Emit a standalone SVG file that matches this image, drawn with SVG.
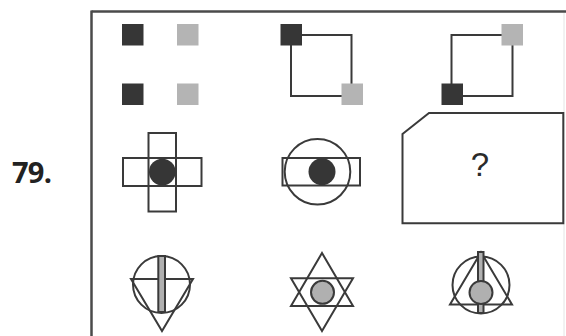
<svg xmlns="http://www.w3.org/2000/svg" width="566" height="336" viewBox="0 0 566 336">
<style>
.ln{fill:none;stroke:#3a3a3a;stroke-width:2}
.dk{fill:#363636}
.lt{fill:#b4b4b4}
.gc{fill:#b0b0b0;stroke:#3a3a3a;stroke-width:2}
</style>
<rect width="566" height="336" fill="#fff"/>
<g id="frame">
<line x1="91.5" y1="11.5" x2="566" y2="11.5" stroke="#4a4a4a" stroke-width="2.5"/>
<line x1="91.5" y1="10.5" x2="91.5" y2="336" stroke="#4a4a4a" stroke-width="2.5"/>
<line x1="564" y1="13" x2="564" y2="336" stroke="#e4e4e4" stroke-width="1"/>
</g>
<text x="12" y="183" font-family="'Open Sans', 'DejaVu Sans', sans-serif" font-weight="bold" font-size="29" fill="#222" textLength="40">79.</text>
<g id="cell-1-1">
<rect class="dk" x="122" y="24" width="21.5" height="21.5"/>
<rect class="lt" x="177" y="24" width="21.5" height="21.5"/>
<rect class="dk" x="122" y="83.5" width="21.5" height="21.5"/>
<rect class="lt" x="177" y="83.5" width="21.5" height="21.5"/>
</g>
<g id="cell-1-2">
<g id="connectors-1-2">
<polyline class="ln" points="302,35 351.5,35 351.5,84"/>
<polyline class="ln" points="291,45 291,96 342,96"/>
</g>
<rect class="dk" x="280.5" y="24" width="21.5" height="21.5"/>
<rect class="lt" x="341.5" y="83.5" width="21.5" height="21.5"/>
</g>
<g id="cell-1-3">
<g id="connectors-1-3">
<polyline class="ln" points="502,35 451.5,35 451.5,84"/>
<polyline class="ln" points="512.5,45 512.5,96 463,96"/>
</g>
<rect class="lt" x="501.5" y="24" width="21.5" height="21.5"/>
<rect class="dk" x="441.5" y="83.5" width="21.5" height="21.5"/>
</g>
<g id="cell-2-1">
<rect class="ln" x="123" y="158" width="78.5" height="28"/>
<rect class="ln" x="148.5" y="133" width="27.5" height="78.5"/>
<circle class="dk" cx="162.3" cy="172" r="13.3"/>
</g>
<g id="cell-2-2">
<rect class="ln" x="282.5" y="158" width="77.5" height="27.5"/>
<circle class="ln" cx="317.5" cy="171.8" r="32.8"/>
<circle class="dk" cx="322" cy="171.8" r="13.5"/>
</g>
<g id="cell-2-3">
<path class="ln" d="M402.5,134 L429,113 L563.3,113 L563.3,223.3 L402.5,223.3 Z"/>
<text x="480" y="176" text-anchor="middle" font-family="'Liberation Sans', Arial, sans-serif" font-size="33" fill="#2a2a2a">?</text>
</g>
<g id="cell-3-1">
<circle class="ln" cx="161.5" cy="284.5" r="28.5"/>
<path class="ln" d="M131,279 L193,279 L162,331 Z"/>
<rect class="gc" x="158.3" y="256" width="6.7" height="56"/>
</g>
<g id="cell-3-2">
<path class="ln" d="M322,253 L353,306 L291,306 Z"/>
<path class="ln" d="M322,331 L353,278.3 L291,278.3 Z"/>
<circle class="gc" cx="322.5" cy="292.3" r="11.5"/>
</g>
<g id="cell-3-3">
<circle class="ln" cx="481" cy="285" r="28.5"/>
<path class="ln" d="M481,252.3 L512,304.5 L450,304.5 Z"/>
<rect class="gc" x="478" y="252" width="5.5" height="61"/>
<circle class="gc" cx="481" cy="292.5" r="11.5"/>
</g>
</svg>
